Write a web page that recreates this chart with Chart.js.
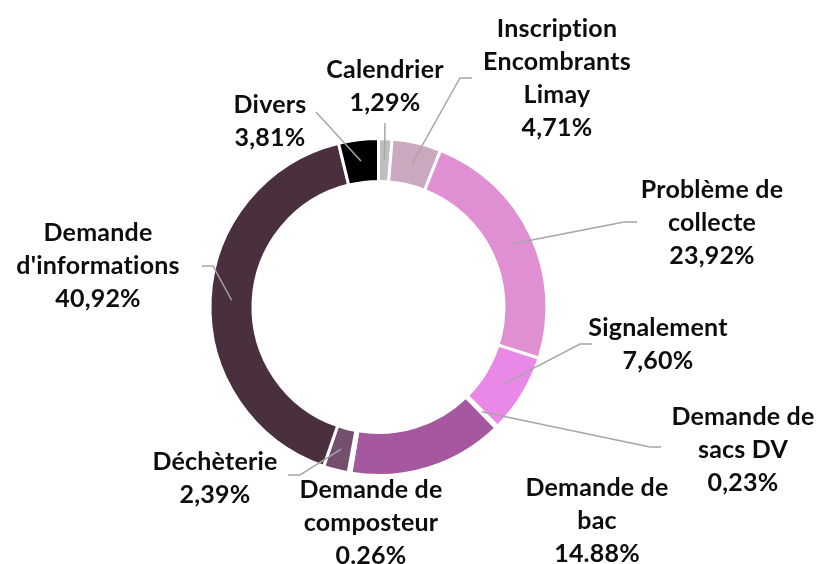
<!DOCTYPE html>
<html>
<head>
<meta charset="utf-8">
<script src="https://cdn.jsdelivr.net/npm/chart.js@4"></script>
<style>
  html, body { margin: 0; padding: 0; background: #fff; }
  canvas { display: block; }
</style>
</head>
<body>
<canvas id="donut" width="819" height="564"></canvas>
<script>
// data, clockwise from 12 o'clock
const categories = [
  ['Calendrier'],
  ['Inscription', 'Encombrants', 'Limay'],
  ['Problème de', 'collecte'],
  ['Signalement'],
  ['Demande de', 'sacs DV'],
  ['Demande de', 'bac'],
  ['Demande de', 'composteur'],
  ['Déchèterie'],
  ['Demande', "d'informations"],
  ['Divers']
];
const shares = [1.29, 4.71, 23.92, 7.60, 0.23, 14.88, 0.26, 2.39, 40.92, 3.81];
const shareLabels = ['1,29%', '4,71%', '23,92%', '7,60%', '0,23%', '14.88%', '0.26%', '2,39%', '40,92%', '3,81%'];

const sliceColors = ['#bfbfbf', '#caa8bf', '#e090d2', '#ea88e8', '#d070cc',
                     '#a558a0', '#8a5a86', '#744f6e', '#4a2f3e', '#000000'];

// label layout: centre x, centre y of first line, leader path (label side)
const labelLayout = [
  { x: 385, y: 70,  path: [[385, 123]] },
  { x: 557, y: 29,  path: [[460, 78], [472, 78]] },
  { x: 712, y: 190, path: [[624, 222], [637, 222]] },
  { x: 658, y: 328, path: [[580, 344], [592, 344]] },
  { x: 743, y: 417, path: [[650, 447], [661, 447]] },
  { x: 597, y: 488, path: null },
  { x: 371, y: 490, path: null },
  { x: 215, y: 462, path: [[300, 475], [288, 475]] },
  { x: 98,  y: 233, path: [[213, 266], [202, 266]] },
  { x: 270, y: 105, path: [[316, 112]] }
];

const labelPlugin = {
  id: 'outsideLabels',
  afterDraw(chart) {
    const ctx = chart.ctx;
    const arcs = chart.getDatasetMeta(0).data;
    ctx.save();
    ctx.strokeStyle = '#a6a6a6';
    ctx.lineWidth = 1.5;
    arcs.forEach((arc, i) => {
      const lay = labelLayout[i];
      if (!lay.path) return;
      const p = arc.tooltipPosition();
      ctx.beginPath();
      ctx.moveTo(p.x, p.y);
      lay.path.forEach(pt => ctx.lineTo(pt[0], pt[1]));
      ctx.stroke();
    });
    ctx.fillStyle = '#0d0d0d';
    ctx.font = 'bold 25px Lato';
    ctx.letterSpacing = '0.2px'; // also stops the "ti" ligature
    ctx.textAlign = 'center';
    ctx.textBaseline = 'middle';
    categories.forEach((lines, i) => {
      const lay = labelLayout[i];
      const all = lines.concat([shareLabels[i]]);
      all.forEach((t, k) => ctx.fillText(t, lay.x, lay.y + k * 33));
    });
    ctx.restore();
  }
};

new Chart(document.getElementById('donut'), {
  type: 'doughnut',
  data: {
    labels: categories.map(c => c.join(' ')),
    datasets: [{
      data: shares,
      backgroundColor: sliceColors,
      borderColor: '#ffffff',
      borderWidth: 3
    }]
  },
  options: {
    responsive: false,
    animation: false,
    radius: 168.5,
    cutout: '74.5%',
    layout: { padding: { left: 150, right: 212, top: 100, bottom: 50 } },
    plugins: {
      legend: { display: false },
      tooltip: { enabled: false }
    }
  },
  plugins: [labelPlugin]
});
</script>
</body>
</html>
